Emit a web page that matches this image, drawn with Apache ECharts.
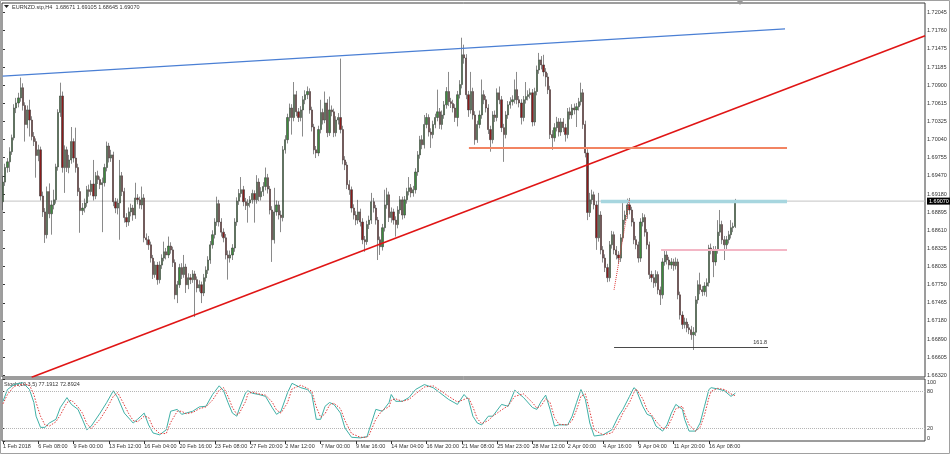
<!DOCTYPE html>
<html><head><meta charset="utf-8">
<script src="https://cdn.jsdelivr.net/npm/echarts@6/dist/echarts.min.js"></script>
<style>html,body{margin:0;padding:0;background:#fff}#c{width:950px;height:454px}</style>
</head><body><div id="c"></div>
<script>
const dateTicks = [0,16,32,48,64,80,96,112,128,144,160,176,192,208,224,240,256,272,288,304,320];
const dateLabels = ["1 Feb 2018","6 Feb 08:00","9 Feb 00:00","13 Feb 12:00","16 Feb 04:00","20 Feb 16:00","23 Feb 08:00","27 Feb 20:00","2 Mar 12:00","7 Mar 00:00","9 Mar 16:00","14 Mar 04:00","16 Mar 20:00","21 Mar 08:00","25 Mar 23:00","28 Mar 12:00","2 Apr 00:00","4 Apr 16:00","9 Apr 04:00","11 Apr 20:00","16 Apr 08:00"];
const priceTicks = [1.72045,1.71760,1.71475,1.71185,1.70900,1.70615,1.70325,1.70040,1.69755,1.69470,1.69180,1.68895,1.68610,1.68325,1.68035,1.67750,1.67465,1.67180,1.66890,1.66605,1.66320];
const stochTicks = [0,20,80,100];

const opens = [
1.6906,1.6937,1.6960,1.6969,1.6985,1.7007,1.7054,1.7062,1.7070,1.7086,
1.7058,1.7028,1.7051,1.7035,1.7009,1.7001,1.6979,1.6988,1.6915,1.6890,
1.6854,1.6922,1.6887,1.6901,1.6909,1.6961,1.7047,1.7073,1.6960,1.6988,
1.6960,1.6972,1.7001,1.6975,1.6960,1.6922,1.6892,1.6896,1.6904,1.6925,
1.6922,1.6934,1.6915,1.6947,1.6941,1.6933,1.6936,1.6960,1.6994,1.6975,
1.6980,1.6906,1.6896,1.6904,1.6947,1.6922,1.6881,1.6874,1.6890,1.6896,
1.6885,1.6912,1.6909,1.6901,1.6912,1.6849,1.6846,1.6838,1.6817,1.6791,
1.6806,1.6783,1.6806,1.6817,1.6827,1.6822,1.6836,1.6830,1.6810,1.6759,
1.6775,1.6802,1.6791,1.6803,1.6775,1.6786,1.6783,1.6792,1.6783,1.6770,
1.6775,1.6762,1.6786,1.6798,1.6814,1.6838,1.6854,1.6874,1.6903,1.6874,
1.6858,1.6849,1.6822,1.6817,1.6822,1.6833,1.6874,1.6907,1.6919,1.6925,
1.6906,1.6900,1.6904,1.6909,1.6919,1.6909,1.6937,1.6914,1.6922,1.6930,
1.6944,1.6926,1.6893,1.6846,1.6890,1.6901,1.6885,1.6881,1.6988,1.7004,
1.7039,1.7054,1.7039,1.7075,1.7048,1.7039,1.7051,1.7067,1.7075,1.7080,
1.7051,1.7024,1.6988,1.6983,1.7020,1.7047,1.7035,1.7062,1.7015,1.7051,
1.7048,1.7015,1.7035,1.7039,1.7020,1.6972,1.6964,1.6933,1.6925,1.6896,
1.6885,1.6877,1.6890,1.6874,1.6846,1.6843,1.6870,1.6877,1.6906,1.6896,
1.6877,1.6846,1.6835,1.6865,1.6901,1.6917,1.6881,1.6890,1.6877,1.6870,
1.6893,1.6909,1.6885,1.6909,1.6922,1.6928,1.6920,1.6925,1.6953,1.6980,
1.7004,1.6996,1.7028,1.7039,1.7016,1.7012,1.7028,1.7039,1.7048,1.7028,
1.7043,1.7059,1.7080,1.7064,1.7061,1.7054,1.7039,1.7075,1.7091,1.7138,
1.7133,1.7075,1.7051,1.7080,1.7043,1.7004,1.7028,1.7043,1.7075,1.7067,
1.7054,1.7020,1.7004,1.7043,1.7039,1.7078,1.7067,1.7023,1.7012,1.7043,
1.7059,1.7064,1.7067,1.7083,1.7067,1.7062,1.7039,1.7067,1.7072,1.7075,
1.7078,1.7032,1.7080,1.7114,1.7130,1.7122,1.7111,1.7103,1.7083,1.7012,
1.7007,1.7023,1.7032,1.7016,1.7032,1.7023,1.7012,1.7048,1.7043,1.7054,
1.7051,1.7056,1.7064,1.7078,1.7028,1.6983,1.6889,1.6909,1.6917,1.6901,
1.6849,1.6885,1.6830,1.6817,1.6802,1.6786,1.6838,1.6854,1.6830,1.6822,
1.6817,1.6849,1.6877,1.6885,1.6901,1.6893,1.6874,1.6846,1.6838,1.6817,
1.6874,1.6881,1.6858,1.6838,1.6791,1.6786,1.6778,1.6791,1.6767,1.6759,
1.6811,1.6822,1.6814,1.6806,1.6811,1.6805,1.6811,1.6759,1.6727,1.6712,
1.6716,1.6707,1.6704,1.6696,1.6700,1.6751,1.6775,1.6767,1.6764,1.6773,
1.6778,1.6833,1.6830,1.6811,1.6830,1.6858,1.6870,1.6846,1.6838,1.6846,
1.6854,1.6865,1.68671];

const highs = [
1.6947,1.6966,1.6975,1.6992,1.7012,1.7060,1.7070,1.7078,1.7102,1.7093,
1.7063,1.7058,1.7067,1.7041,1.7016,1.7006,1.6996,1.6993,1.6922,1.6896,
1.6930,1.6935,1.6908,1.6925,1.6966,1.7052,1.7094,1.7080,1.6995,1.6993,
1.6980,1.7024,1.7006,1.7023,1.6966,1.6928,1.6904,1.6911,1.6931,1.6933,
1.6940,1.6972,1.6953,1.6955,1.6946,1.6944,1.6966,1.7001,1.6999,1.6988,
1.6985,1.6912,1.6911,1.6972,1.6953,1.6928,1.6888,1.6897,1.6903,1.6901,
1.6936,1.6918,1.6914,1.6930,1.6918,1.6856,1.6852,1.6843,1.6822,1.6812,
1.6811,1.6812,1.6823,1.6843,1.6833,1.6851,1.6842,1.6835,1.6815,1.6781,
1.6808,1.6809,1.6822,1.6808,1.6793,1.6792,1.6798,1.6797,1.6788,1.6782,
1.6780,1.6792,1.6804,1.6820,1.6844,1.6861,1.6880,1.6914,1.6909,1.6880,
1.6864,1.6855,1.6829,1.6829,1.6839,1.6880,1.6913,1.6926,1.6945,1.6931,
1.6912,1.6910,1.6915,1.6925,1.6924,1.6948,1.6943,1.6929,1.6937,1.6960,
1.6950,1.6931,1.6899,1.6928,1.6908,1.6907,1.6892,1.6994,1.7011,1.7045,
1.7061,1.7060,1.7095,1.7081,1.7054,1.7057,1.7073,1.7082,1.7088,1.7085,
1.7056,1.7029,1.6994,1.7026,1.7067,1.7053,1.7080,1.7068,1.7072,1.7058,
1.7053,1.7041,1.7046,1.7132,1.7026,1.6978,1.6969,1.6940,1.6930,1.6902,
1.6891,1.6909,1.6895,1.6880,1.6852,1.6876,1.6884,1.6920,1.6912,1.6901,
1.6882,1.6851,1.6871,1.6925,1.6928,1.6922,1.6897,1.6895,1.6883,1.6899,
1.6915,1.6914,1.6915,1.6928,1.6945,1.6934,1.6931,1.6959,1.6986,1.7010,
1.7011,1.7043,1.7046,1.7044,1.7022,1.7034,1.7045,1.7083,1.7054,1.7050,
1.7065,1.7087,1.7111,1.7070,1.7067,1.7060,1.7081,1.7098,1.7165,1.7154,
1.7139,1.7081,1.7111,1.7086,1.7049,1.7034,1.7050,1.7099,1.7082,1.7073,
1.7060,1.7026,1.7049,1.7050,1.7085,1.7088,1.7073,1.7029,1.7049,1.7065,
1.7071,1.7074,1.7099,1.7111,1.7073,1.7068,1.7073,1.7095,1.7082,1.7085,
1.7084,1.7086,1.7121,1.7141,1.7136,1.7138,1.7117,1.7109,1.7089,1.7019,
1.7030,1.7040,1.7038,1.7038,1.7038,1.7029,1.7054,1.7055,1.7060,1.7061,
1.7062,1.7070,1.7094,1.7084,1.7034,1.6989,1.6920,1.6925,1.6922,1.6907,
1.6920,1.6891,1.6836,1.6823,1.6808,1.6844,1.6860,1.6859,1.6836,1.6828,
1.6855,1.6904,1.6892,1.6911,1.6912,1.6898,1.6880,1.6852,1.6843,1.6880,
1.6888,1.6886,1.6863,1.6843,1.6797,1.6792,1.6798,1.6796,1.6772,1.6817,
1.6829,1.6828,1.6819,1.6817,1.6816,1.6818,1.6816,1.6764,1.6733,1.6723,
1.6722,1.6713,1.6710,1.6708,1.6757,1.6782,1.6794,1.6773,1.6779,1.6785,
1.6838,1.6840,1.6836,1.6836,1.6877,1.6893,1.6876,1.6852,1.6852,1.6860,
1.6877,1.6873,1.69105];

const lows = [
1.6893,1.6931,1.6952,1.6953,1.6980,1.7003,1.7046,1.7055,1.7064,1.7050,
1.7001,1.7022,1.7009,1.7003,1.6994,1.6944,1.6970,1.6908,1.6882,1.6841,
1.6848,1.6880,1.6854,1.6894,1.6903,1.6955,1.7040,1.6952,1.6920,1.6953,
1.6951,1.6966,1.6968,1.6952,1.6915,1.6857,1.6885,1.6889,1.6898,1.6914,
1.6916,1.6908,1.6910,1.6934,1.6926,1.6858,1.6930,1.6954,1.6968,1.6969,
1.6899,1.6888,1.6886,1.6846,1.6915,1.6873,1.6866,1.6868,1.6883,1.6876,
1.6879,1.6902,1.6895,1.6894,1.6842,1.6838,1.6830,1.6810,1.6784,1.6786,
1.6775,1.6777,1.6800,1.6812,1.6815,1.6817,1.6824,1.6803,1.6752,1.6746,
1.6770,1.6784,1.6786,1.6762,1.6768,1.6776,1.6778,1.6724,1.6763,1.6764,
1.6746,1.6757,1.6780,1.6792,1.6808,1.6832,1.6848,1.6868,1.6867,1.6851,
1.6842,1.6815,1.6783,1.6810,1.6814,1.6827,1.6868,1.6901,1.6913,1.6899,
1.6893,1.6873,1.6897,1.6903,1.6873,1.6903,1.6907,1.6908,1.6915,1.6924,
1.6919,1.6886,1.6811,1.6840,1.6884,1.6878,1.6858,1.6875,1.6982,1.6998,
1.7033,1.7012,1.7033,1.7041,1.7032,1.7033,1.7009,1.7060,1.7068,1.7045,
1.7017,1.6981,1.6975,1.6978,1.7014,1.7028,1.7030,1.7008,1.7010,1.7041,
1.7008,1.7009,1.7028,1.7014,1.6965,1.6956,1.6926,1.6917,1.6889,1.6878,
1.6869,1.6871,1.6867,1.6839,1.6827,1.6838,1.6863,1.6871,1.6889,1.6870,
1.6814,1.6822,1.6829,1.6859,1.6895,1.6874,1.6873,1.6870,1.6851,1.6864,
1.6887,1.6878,1.6880,1.6903,1.6916,1.6913,1.6914,1.6919,1.6947,1.6974,
1.6989,1.6990,1.7022,1.7009,1.6991,1.7006,1.7022,1.7033,1.7021,1.7020,
1.7037,1.7053,1.7057,1.7054,1.7047,1.7032,1.7025,1.7069,1.7085,1.7124,
1.7068,1.7040,1.7045,1.7036,1.6996,1.6999,1.7022,1.7037,1.7060,1.7047,
1.7013,1.6985,1.6998,1.7032,1.7033,1.7060,1.7016,1.6969,1.7006,1.7037,
1.7053,1.7058,1.7061,1.7060,1.7055,1.7028,1.7033,1.7061,1.7066,1.7069,
1.7025,1.7026,1.7074,1.7108,1.7115,1.7104,1.7088,1.7076,1.7005,1.6988,
1.7001,1.7017,1.7009,1.7010,1.7016,1.7001,1.7006,1.7036,1.7037,1.7044,
1.7024,1.7050,1.7058,1.7021,1.6976,1.6877,1.6882,1.6902,1.6894,1.6830,
1.6843,1.6823,1.6810,1.6795,1.6779,1.6780,1.6832,1.6823,1.6815,1.6808,
1.6811,1.6843,1.6870,1.6879,1.6886,1.6867,1.6839,1.6831,1.6810,1.6811,
1.6867,1.6851,1.6831,1.6784,1.6779,1.6770,1.6772,1.6760,1.6743,1.6753,
1.6805,1.6807,1.6799,1.6800,1.6797,1.6799,1.6752,1.6720,1.6705,1.6706,
1.6700,1.6697,1.6688,1.6672,1.6694,1.6745,1.6760,1.6757,1.6758,1.6756,
1.6772,1.6823,1.6787,1.6805,1.6824,1.6852,1.6839,1.6814,1.6831,1.6840,
1.6848,1.6858,1.68645];

const closes = [
1.6937,1.6960,1.6969,1.6985,1.7007,1.7054,1.7062,1.7070,1.7086,1.7058,
1.7028,1.7051,1.7035,1.7009,1.7001,1.6979,1.6988,1.6915,1.6890,1.6854,
1.6922,1.6887,1.6901,1.6909,1.6961,1.7047,1.7073,1.6960,1.6988,1.6960,
1.6972,1.7001,1.6975,1.6960,1.6922,1.6892,1.6896,1.6904,1.6925,1.6922,
1.6934,1.6915,1.6947,1.6941,1.6933,1.6936,1.6960,1.6994,1.6975,1.6980,
1.6906,1.6896,1.6904,1.6947,1.6922,1.6881,1.6874,1.6890,1.6896,1.6885,
1.6912,1.6909,1.6901,1.6912,1.6849,1.6846,1.6838,1.6817,1.6791,1.6806,
1.6783,1.6806,1.6817,1.6827,1.6822,1.6836,1.6830,1.6810,1.6759,1.6775,
1.6802,1.6791,1.6803,1.6775,1.6786,1.6783,1.6792,1.6783,1.6770,1.6775,
1.6762,1.6786,1.6798,1.6814,1.6838,1.6854,1.6874,1.6903,1.6874,1.6858,
1.6849,1.6822,1.6817,1.6822,1.6833,1.6874,1.6907,1.6919,1.6925,1.6906,
1.6900,1.6904,1.6909,1.6919,1.6909,1.6937,1.6914,1.6922,1.6930,1.6944,
1.6926,1.6893,1.6846,1.6890,1.6901,1.6885,1.6881,1.6988,1.7004,1.7039,
1.7054,1.7039,1.7075,1.7048,1.7039,1.7051,1.7067,1.7075,1.7080,1.7051,
1.7024,1.6988,1.6983,1.7020,1.7047,1.7035,1.7062,1.7015,1.7051,1.7048,
1.7015,1.7035,1.7039,1.7020,1.6972,1.6964,1.6933,1.6925,1.6896,1.6885,
1.6877,1.6890,1.6874,1.6846,1.6843,1.6870,1.6877,1.6906,1.6896,1.6877,
1.6846,1.6835,1.6865,1.6901,1.6917,1.6881,1.6890,1.6877,1.6870,1.6893,
1.6909,1.6885,1.6909,1.6922,1.6928,1.6920,1.6925,1.6953,1.6980,1.7004,
1.6996,1.7028,1.7039,1.7016,1.7012,1.7028,1.7039,1.7048,1.7028,1.7043,
1.7059,1.7080,1.7064,1.7061,1.7054,1.7039,1.7075,1.7091,1.7138,1.7133,
1.7075,1.7051,1.7080,1.7043,1.7004,1.7028,1.7043,1.7075,1.7067,1.7054,
1.7020,1.7004,1.7043,1.7039,1.7078,1.7067,1.7023,1.7012,1.7043,1.7059,
1.7064,1.7067,1.7083,1.7067,1.7062,1.7039,1.7067,1.7072,1.7075,1.7078,
1.7032,1.7080,1.7114,1.7130,1.7122,1.7111,1.7103,1.7083,1.7012,1.7007,
1.7023,1.7032,1.7016,1.7032,1.7023,1.7012,1.7048,1.7043,1.7054,1.7051,
1.7056,1.7064,1.7078,1.7028,1.6983,1.6889,1.6909,1.6917,1.6901,1.6849,
1.6885,1.6830,1.6817,1.6802,1.6786,1.6838,1.6854,1.6830,1.6822,1.6817,
1.6849,1.6877,1.6885,1.6901,1.6893,1.6874,1.6846,1.6838,1.6817,1.6874,
1.6881,1.6858,1.6838,1.6791,1.6786,1.6778,1.6791,1.6767,1.6759,1.6811,
1.6822,1.6814,1.6806,1.6811,1.6805,1.6811,1.6759,1.6727,1.6712,1.6716,
1.6707,1.6704,1.6696,1.6700,1.6751,1.6775,1.6767,1.6764,1.6773,1.6778,
1.6833,1.6830,1.6811,1.6830,1.6858,1.6870,1.6846,1.6838,1.6846,1.6854,
1.6865,1.6867,1.69070];

const stochK = [[0,64],[2,83],[5,91],[9,94],[12,83],[14,62],[15,40],[17,22],[19,22],[21,29],[24,35],[26,54],[29,70],[31,59],[34,51],[36,35],[38,18],[40,24],[44,45],[47,62],[50,81],[52,70],[55,45],[57,37],[59,29],[61,35],[64,45],[66,26],[68,13],[71,10],[74,18],[76,48],[79,51],[81,43],[83,45],[86,48],[89,55],[92,56],[95,75],[98,89],[100,81],[102,62],[104,45],[106,40],[107,51],[110,78],[111,81],[113,77],[116,75],[119,72],[122,54],[124,43],[126,48],[129,78],[131,93],[135,86],[138,83],[140,75],[142,35],[144,35],[146,56],[148,62],[150,59],[153,45],[155,21],[158,6],[162,5],[165,7],[166,18],[169,51],[172,48],[175,62],[176,75],[178,64],[181,64],[184,70],[187,83],[191,91],[195,86],[198,78],[202,67],[206,59],[209,75],[211,67],[213,40],[215,29],[217,26],[220,40],[222,40],[226,59],[229,56],[232,82],[236,70],[240,54],[242,51],[244,64],[246,74],[248,51],[250,24],[252,26],[256,26],[258,40],[260,62],[262,83],[264,67],[266,29],[268,8],[272,10],[276,18],[279,40],[281,51],[284,72],[286,86],[287,83],[290,56],[292,43],[294,40],[296,24],[299,16],[301,26],[303,45],[305,59],[308,51],[309,35],[311,16],[314,16],[316,29],[318,56],[320,83],[321,86],[324,84],[327,81],[330,72],[332,77.19]];
const stochD = [[0,60],[2,75],[5,88],[9,92],[12,90],[14,75],[15,62],[17,40],[19,26],[21,24],[24,31],[26,42],[29,62],[31,66],[34,55],[36,45],[38,28],[40,20],[44,35],[47,52],[50,72],[52,78],[55,58],[57,44],[59,33],[61,31],[64,40],[66,38],[68,22],[71,12],[74,12],[76,30],[79,48],[81,48],[83,44],[86,46],[89,52],[92,55],[95,66],[98,82],[100,86],[102,72],[104,54],[106,43],[107,44],[110,64],[111,76],[113,79],[116,76],[119,74],[122,63],[124,50],[126,45],[129,62],[131,84],[135,90],[138,85],[140,80],[142,55],[144,38],[146,44],[148,58],[150,61],[153,52],[155,33],[158,12],[162,6],[165,6],[166,10],[169,35],[172,50],[175,55],[176,66],[178,68],[181,64],[184,67],[187,76],[191,87],[195,89],[198,82],[202,72],[206,63],[209,67],[211,70],[213,55],[215,36],[217,28],[220,33],[222,40],[226,50],[229,57],[232,72],[236,76],[240,62],[242,53],[244,57],[246,68],[248,62],[250,38],[252,27],[256,26],[258,33],[260,50],[262,72],[264,76],[266,48],[268,18],[272,10],[276,13],[279,30],[281,45],[284,62],[286,78],[287,84],[290,68],[292,50],[294,42],[296,32],[299,20],[301,21],[303,35],[305,52],[308,56],[309,44],[311,26],[314,16],[316,22],[318,42],[320,70],[321,80],[324,85],[327,83],[330,76],[332,72.89]];

const blueTrend = [[-0.14,1.71045],[354.5,1.71788]];
const redTrend = [[13,1.6629],[418,1.7168]];
const orangeLevel = [[211.2,1.69909],[355.4,1.69909]];
const blueLevel = [[271,1.69064],[355.4,1.69064]];
const pinkLevel = [[298.3,1.68298],[355.4,1.68298]];
const fibBase = [[277,1.6767],[284,1.6910]];
const fib1618 = [[277,1.66767],[346.8,1.66767]];
const lastPrice = 1.69070;
const priceLineSpan = [-0.45, 417.95];
const headerText = 'EURNZD.stp,H4  1.68671 1.69105 1.68645 1.69070';
const stochText = 'Stoch(10,3,5) 77.1912 72.8924';

const candleData = closes.map((c, i) => [i, opens[i], c, lows[i], highs[i]]);
const FONT = 'Liberation Sans';
const FS = 5.5;
const TXT = '#333';

const chart = echarts.init(document.getElementById('c'));
function lvl(data, color, width, type) {
  return {type:'line', xAxisIndex:0, yAxisIndex:0, data, symbol:'none', silent:true, z:5,
    lineStyle:{color, width, type: type || 'solid'}};
}
chart.setOption({
  animation:false,
  backgroundColor:'#fff',
  textStyle:{fontFamily:FONT},
  grid:[
    {left:2, top:3, width:923, height:374, show:true, borderColor:'#3a3a3a', borderWidth:1},
    {left:2, top:379, width:923, height:62, show:true, borderColor:'#3a3a3a', borderWidth:1}
  ],
  xAxis:[
    {gridIndex:0, type:'value', min:priceLineSpan[0], max:priceLineSpan[1], axisLine:{show:false}, axisTick:{show:false}, axisLabel:{show:false}, splitLine:{show:false}},
    {gridIndex:1, type:'value', min:priceLineSpan[0], max:priceLineSpan[1], axisLine:{show:false},
      axisTick:{show:true, customValues:dateTicks, length:3, lineStyle:{color:'#333'}},
      axisLabel:{show:true, customValues:dateTicks, align:'left', fontSize:FS, color:TXT, fontFamily:FONT, margin:2,
        formatter:v => { const k = dateTicks.indexOf(Math.round(v)); return k >= 0 ? dateLabels[k] : ''; }},
      splitLine:{show:false}}
  ],
  yAxis:[
    {gridIndex:0, type:'value', position:'right', min:1.66293, max:1.72198, axisLine:{show:false},
      axisTick:{show:true, customValues:priceTicks, length:2, lineStyle:{color:'#333'}},
      axisLabel:{show:true, customValues:priceTicks, fontSize:FS, color:TXT, fontFamily:FONT, margin:2,
        formatter:v => Number(v).toFixed(5)},
      splitLine:{show:false}},
    {gridIndex:1, type:'value', position:'right', min:0, max:100, axisLine:{show:false},
      axisTick:{show:true, customValues:stochTicks, length:2, lineStyle:{color:'#333'}},
      axisLabel:{show:true, customValues:stochTicks, fontSize:FS, color:TXT, fontFamily:FONT, margin:2,
        verticalAlignMinLabel:'bottom', verticalAlignMaxLabel:'top'},
      splitLine:{show:false}}
  ],
  series:[
    {type:'line', xAxisIndex:0, yAxisIndex:0, symbol:'none', silent:true, z:1,
      data:[[priceLineSpan[0], lastPrice],[priceLineSpan[1], lastPrice]],
      lineStyle:{color:'#c4c4c4', width:1},
      endLabel:{show:true, formatter:'1.69070', backgroundColor:'#000', color:'#fff',
        fontSize:FS, fontFamily:FONT, padding:[1,2,0,2], distance:2}},
    {type:'candlestick', xAxisIndex:0, yAxisIndex:0, data:candleData,
      dimensions:['i','open','close','lowest','highest'], encode:{x:0, y:[1,2,3,4]},
      barWidth:1.7, z:3,
      itemStyle:{color:'#3d8b3d', color0:'#8a1c1c', borderColor:'#3a3a3a', borderColor0:'#3a3a3a', borderWidth:0.6},
      markLine:{silent:true, symbol:['none','none'], z:1,
        data:[
          [{coord:fib1618[0]}, {coord:fib1618[1], lineStyle:{color:'#4a4a4a', width:1, type:'solid'},
            label:{show:true, position:'insideEndTop', formatter:'161.8', color:TXT, fontSize:FS, fontFamily:FONT, distance:1}}]
        ]}},
    lvl(blueTrend, '#4a7fd4', 1.2),
    lvl(redTrend, '#e01515', 1.6),
    lvl(orangeLevel, '#f28462', 2),
    lvl(blueLevel, '#a7d6df', 3.5),
    lvl(pinkLevel, '#f3b6c5', 2),
    lvl(fibBase, '#e03a3a', 1, 'dotted'),
    {type:'line', xAxisIndex:1, yAxisIndex:1, data:stochK, symbol:'none', silent:true, z:4,
      lineStyle:{color:'#3fb0a6', width:1},
      markLine:{silent:true, symbol:['none','none'], label:{show:false},
        lineStyle:{color:'#b5b5b5', width:1, type:'dotted'}, data:[{yAxis:80},{yAxis:20}]}},
    {type:'line', xAxisIndex:1, yAxisIndex:1, data:stochD, symbol:'none', silent:true, z:5,
      lineStyle:{color:'#e03c3c', width:1, type:[1.5,1.5]}}
  ],
  graphic:[
    {type:'rect', silent:true, shape:{x:0.5, y:0.5, width:949, height:453}, style:{fill:'none', stroke:'#a0a0a0', lineWidth:1}},
    {type:'polygon', silent:true, shape:{points:[[4,5],[9,5],[6.5,8]]}, style:{fill:'#222'}},
    {type:'text', silent:true, x:12, y:4, style:{text:headerText, fontSize:FS, fontFamily:FONT, fill:TXT}},
    {type:'text', silent:true, x:4, y:381, style:{text:stochText, fontSize:FS, fontFamily:FONT, fill:TXT}},
    {type:'polygon', silent:true, shape:{points:[[737,1],[743,1],[740,5]]}, style:{fill:'#999'}}
  ]
});
</script>
</body></html>
